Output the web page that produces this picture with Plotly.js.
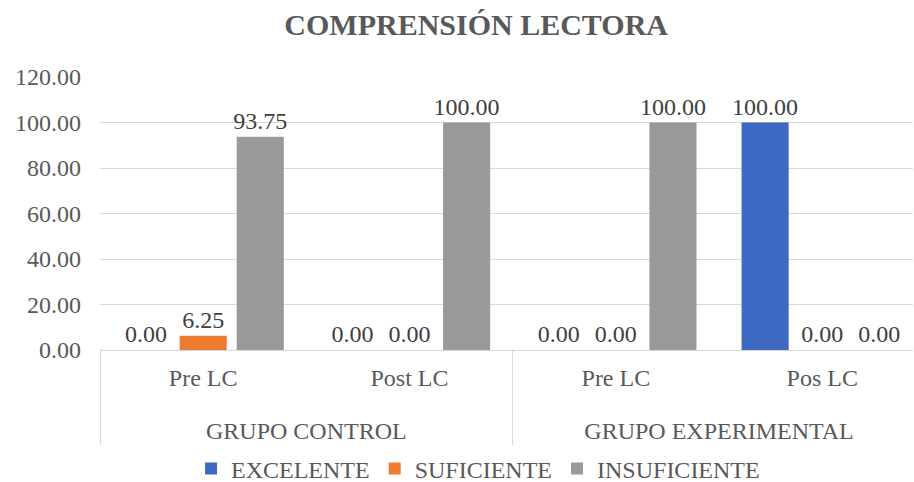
<!DOCTYPE html>
<html>
<head>
<meta charset="utf-8">
<script src="https://cdn.plot.ly/plotly-3.0.1.min.js"></script>
<style>html,body{margin:0;padding:0;background:#fff;}#chart{width:914px;height:482px;}</style>
</head>
<body>
<div id="chart"></div>
<script>
const groups = ["GRUPO CONTROL", "GRUPO CONTROL", "GRUPO EXPERIMENTAL", "GRUPO EXPERIMENTAL"];
const phases = ["Pre LC", "Post LC", "Pre LC", "Pos LC"];
const seriesNames = ["EXCELENTE", "SUFICIENTE", "INSUFICIENTE"];
const excelente = [0.00, 0.00, 0.00, 100.00];
const suficiente = [6.25, 0.00, 0.00, 0.00];
const insuficiente = [93.75, 100.00, 100.00, 0.00];
const yTicks = [0, 20, 40, 60, 80, 100, 120];

const colors = ["#3E69C2", "#EE7B30", "#999999"];
const values = [excelente, suficiente, insuficiente];
const FONT = "'Liberation Serif', 'Times New Roman', serif";

// outer labels pushed one line down so the two label rows do not collide
const groupLabels = groups.map(g => "<br>" + g);

const traces = values.map((v, i) => ({
  type: "bar",
  name: seriesNames[i],
  x: [groupLabels, phases],
  y: v,
  marker: {color: colors[i]},
  texttemplate: "%{y:.2f}",
  textposition: "outside",
  constraintext: "none",
  textfont: {family: FONT, size: 24, color: "#404040"},
  cliponaxis: false,
  hoverinfo: "skip"
}));

const layout = {
  width: 914, height: 482,
  margin: {l: 100, r: 1, t: 77, b: 132},
  paper_bgcolor: "#fff", plot_bgcolor: "#fff",
  font: {family: FONT, color: "#595959", size: 24},
  title: {text: "<b>COMPRENSIÓN LECTORA</b>", x: 0.521, xanchor: "center",
          yref: "container", y: 0.95, yanchor: "middle",
          font: {family: FONT, size: 30, color: "#595959"}},
  barmode: "group",
  bargap: 0.17,
  bargroupgap: 0.175,
  xaxis: {
    type: "multicategory",
    range: [-0.5, 3.44],
    automargin: false,
    showline: true, linecolor: "#d9d9d9", linewidth: 1,
    showdividers: true, dividercolor: "#d9d9d9", dividerwidth: 1,
    tickfont: {family: FONT, size: 24, color: "#595959"},
    ticks: "", showgrid: false, zeroline: false,
    ticklabelstandoff: 6
  },
  yaxis: {
    range: [0, 120],
    automargin: false,
    tickvals: yTicks,
    tickformat: ".2f",
    showgrid: true, gridcolor: "#d9d9d9", gridwidth: 1,
    zeroline: false, showline: false,
    tickfont: {family: FONT, size: 24, color: "#595959"},
    ticklabelstandoff: 18
  },
  showlegend: true,
  legend: {orientation: "h", x: 0.465, xanchor: "center",
           yref: "container", y: 1 - 469 / 482, yanchor: "middle",
           font: {family: FONT, size: 24, color: "#595959"}, traceorder: "normal",
           itemwidth: 30, bgcolor: "rgba(0,0,0,0)"}
};

Plotly.newPlot("chart", traces, layout, {staticPlot: true, displayModeBar: false});
</script>
</body>
</html>
